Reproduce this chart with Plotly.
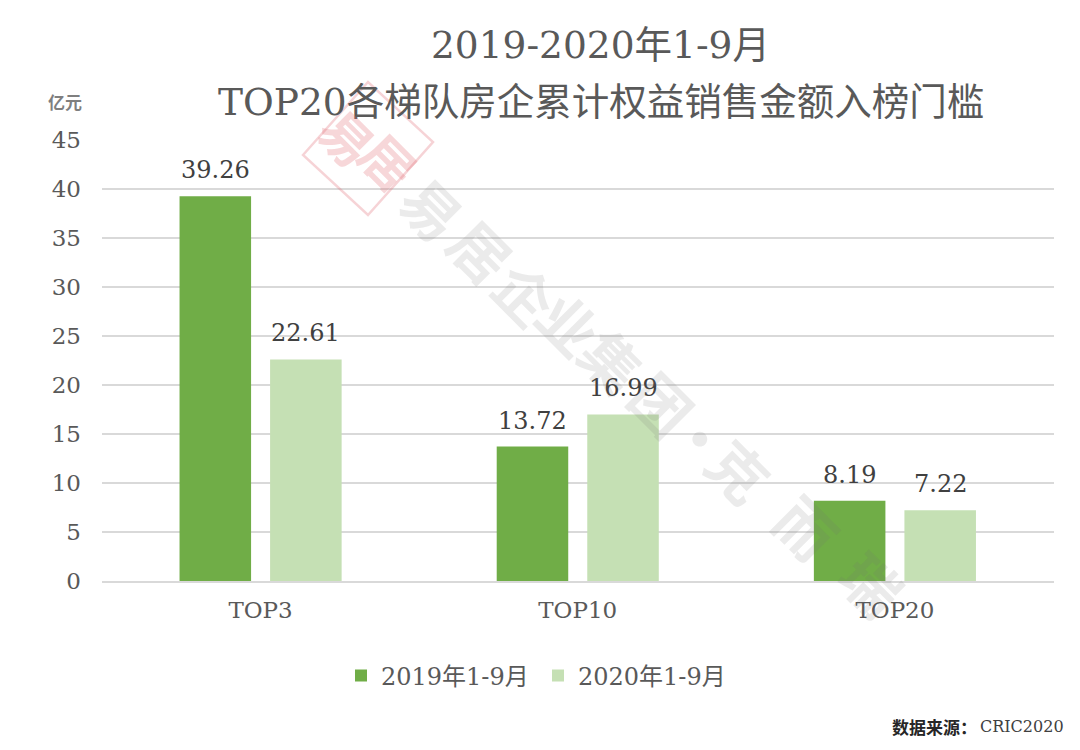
import plotly.graph_objects as go

categories = ["TOP3", "TOP10", "TOP20"]
series_2019 = [39.26, 13.72, 8.19]
series_2020 = [22.61, 16.99, 7.22]
name_2019 = "2019年1-9月"
name_2020 = "2020年1-9月"
tick_values = [0, 5, 10, 15, 20, 25, 30, 35, 40, 45]
watermark_chars = ["易", "居", "企", "业", "集", "团", "·", "克", "而", "瑞"]
watermark_px = [(433, 208), (482, 250), (526, 293), (570, 323), (613, 360),
                (663, 403), (702, 437), (740, 470), (807, 527), (873, 583)]

SERIF = "DejaVu Serif, Noto Sans CJK SC"
CJK = "Noto Sans CJK SC"
GREY = "#595959"
W, H = 1080, 750
PAGE_OFFSET = 8
BARGAP = 0.429
GROUPGAP = 0.21

def px(x):
    return (x - PAGE_OFFSET) / W

def py(y):
    return 1 - (y - PAGE_OFFSET) / H

def note(text, x, y, size, color, family, angle=0, xanchor="center"):
    return dict(text=text, x=px(x), y=py(y), xref="paper", yref="paper", showarrow=False,
                xanchor=xanchor, yanchor="middle", textangle=angle,
                font=dict(size=size, color=color, family=family))

annotations = [
    note("2019-2020年1-9月", 600, 45, 37.5, GREY, SERIF),
    note("TOP20各梯队房企累计权益销售金额入榜门槛", 601, 102, 37.5, GREY, SERIF),
    note("<b>亿元</b>", 65, 101, 17, "#7F7F7F", CJK),
    note("<b>数据来源：</b>", 979, 726, 17, "#262626", CJK, xanchor="right"),
    note("CRIC2020", 1066, 726, 16, "#404040", SERIF, xanchor="right"),
]

# value labels, placed from the data at the centre of each bar
offset = (1 - BARGAP) / 4
for sign, values in ((-1, series_2019), (1, series_2020)):
    for i, v in enumerate(values):
        annotations.append(dict(text=f"{v:.2f}", x=i + sign * offset, y=v, xref="x", yref="y",
                                xanchor="center", yanchor="middle", yshift=26, showarrow=False,
                                font=dict(size=24, color="#404040", family=SERIF)))

# watermark
for ch, (wx, wy) in zip(watermark_chars, watermark_px):
    annotations.append(note(f"<b>{ch}</b>", wx, wy, 58, "rgba(110,110,110,0.14)", CJK, angle=45))
for ch, wx, wy, size in (("易", 348, 137, 52), ("居", 390, 160, 52)):
    annotations.append(note(f"<b>{ch}</b>", wx, wy, size, "rgba(225,110,120,0.28)", CJK, angle=45))

stamp_path = (f"M {px(303)} {py(155)} L {px(368)} {py(82)} L {px(433)} {py(142)} "
              f"L {px(368)} {py(215)} Z")

fig = go.Figure()
fig.add_bar(x=categories, y=series_2019, name=name_2019, marker=dict(color="#70AD47", line_width=0))
fig.add_bar(x=categories, y=series_2020, name=name_2020, marker=dict(color="#C5E0B4", line_width=0))

fig.update_layout(
    width=W, height=H, autosize=False, paper_bgcolor="white", plot_bgcolor="white",
    margin=dict(l=0, r=0, t=0, b=0, autoexpand=False), barmode="group", bargap=BARGAP, bargroupgap=GROUPGAP,
    font=dict(family=SERIF, color=GREY),
    showlegend=True,
    legend=dict(orientation="h", x=px(538), xanchor="center", y=py(676), yanchor="middle",
                font=dict(size=24, color=GREY), itemwidth=30, entrywidth=152, entrywidthmode="pixels"),
    xaxis=dict(domain=[px(102), px(1053.5)], anchor="y", showline=True, linecolor="#D9D9D9", linewidth=2,
               ticks="", tickfont=dict(size=23, color=GREY), automargin=False, ticklabelstandoff=7),
    yaxis=dict(domain=[py(581), py(140)], range=[0, 45], tickvals=tick_values, gridcolor="#D9D9D9",
               gridwidth=2, zeroline=False, tickfont=dict(size=23, color=GREY), ticks="",
               automargin=False, ticklabelstandoff=20),
    shapes=[dict(type="path", path=stamp_path, xref="paper", yref="paper",
                 line=dict(color="rgba(225,110,120,0.3)", width=2.5), fillcolor="rgba(0,0,0,0)")],
    annotations=annotations,
)
fig.write_html("out.html")
